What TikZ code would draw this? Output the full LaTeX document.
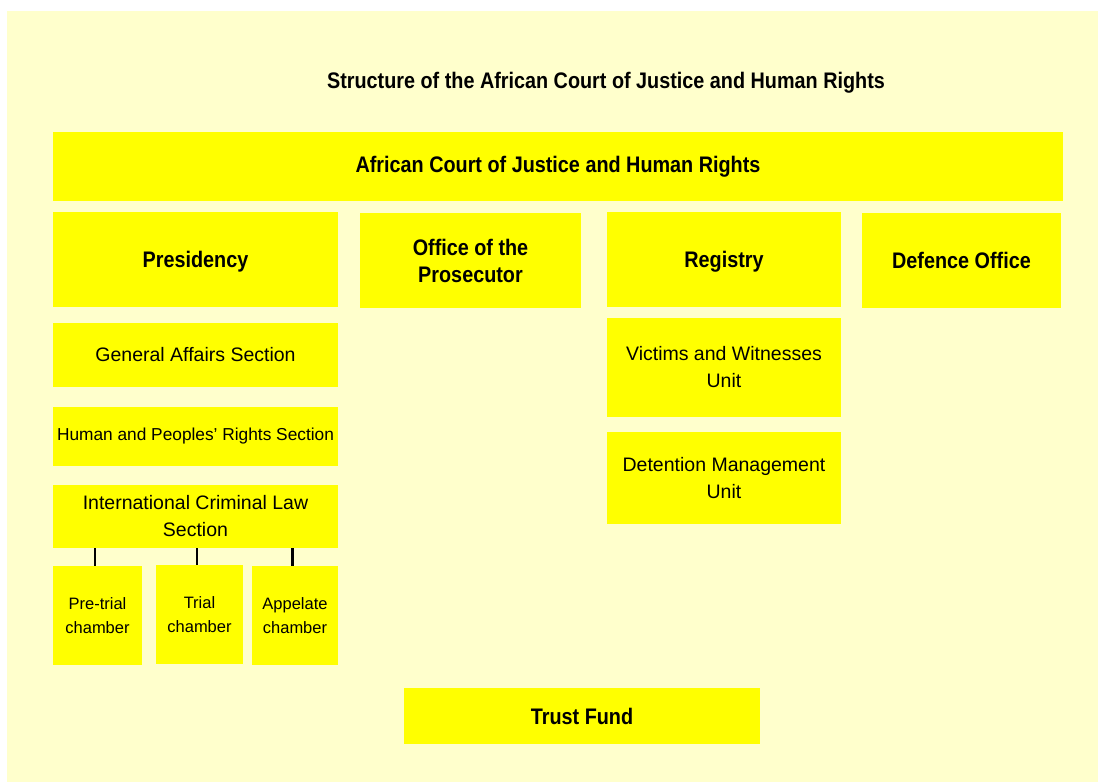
\documentclass[tikz,border=0pt]{standalone}
\usepackage{fontspec}
\setmainfont{Liberation Sans}
\newfontfamily\headfont[FakeStretch=0.88]{Liberation Sans}
\usepackage{tikz}
\definecolor{paleyellow}{HTML}{FFFFCC}
\definecolor{boxyellow}{HTML}{FFFF00}

\begin{document}
\begin{tikzpicture}[x=1pt, y=-1pt,
  unit/.style = {fill=boxyellow, inner sep=0pt, align=center},
  heading/.style = {font=\headfont\bfseries\fontsize{22.5}{27}\selectfont},
  head/.style = {unit, heading},
  sect/.style = {unit, font=\fontsize{19.5}{27}\selectfont},
  chamber/.style = {unit, minimum height=99pt, font=\fontsize{16.5}{24}\selectfont},
  link/.style = {line width=2.5pt}]
  \useasboundingbox (0,0) rectangle (1098,782);
  \fill[paleyellow] (7,11) rectangle (1098,782);

  \node[heading] (title) at (606,83) {Structure of the African Court of Justice and Human Rights};
  \node[head, minimum width=1010pt, minimum height=69pt] (court) at (558,166.5) {African Court of Justice and Human Rights};

  % top row
  \node[head, minimum width=285pt, minimum height=95pt, text depth=0pt] (presidency) at (195.5,259.5) {Presidency};
  \node[head, minimum width=221pt, minimum height=95pt] (prosecutor) at (470.5,260.5) {Office of the\\Prosecutor};
  \node[head, minimum width=234pt, minimum height=95pt, text depth=0pt] (registry) at (724,259.5) {Registry};
  \node[head, minimum width=199pt, minimum height=95pt] (defence) at (961.5,260) {Defence Office};

  \node[sect, minimum width=285pt, minimum height=64pt] (general) at (195.5,355) {General Affairs Section};
  \node[sect, minimum width=285pt, minimum height=59pt, font=\fontsize{17.3}{24}\selectfont] (rights) at (195.5,436.5) {Human and Peoples’ Rights Section};
  \node[sect, minimum width=285pt, minimum height=63pt] (icl) at (195.5,516.5) {International Criminal Law\\Section};

  \node[chamber, minimum width=89pt] (pretrial) at (97.5,615.5) {Pre-trial\\chamber};
  \node[chamber, minimum width=87pt] (trial) at (199.5,614.5) {Trial\\chamber};
  \node[chamber, minimum width=86pt] (appeal) at (295,615.5) {Appelate\\chamber};
  \foreach \c in {pretrial, trial, appeal}
    \draw[link] ([xshift=-2.5pt]\c.north) -- ([xshift=-2.5pt]\c.north |- icl.south);

  \node[sect, minimum width=234pt, minimum height=99pt] (victims) at (724,367) {Victims and Witnesses\\Unit};
  \node[sect, minimum width=234pt, minimum height=92pt] (detention) at (724,478) {Detention Management\\Unit};

  \node[head, minimum width=356pt, minimum height=56pt] (trust) at (582,716) {Trust Fund};
\end{tikzpicture}
\end{document}
